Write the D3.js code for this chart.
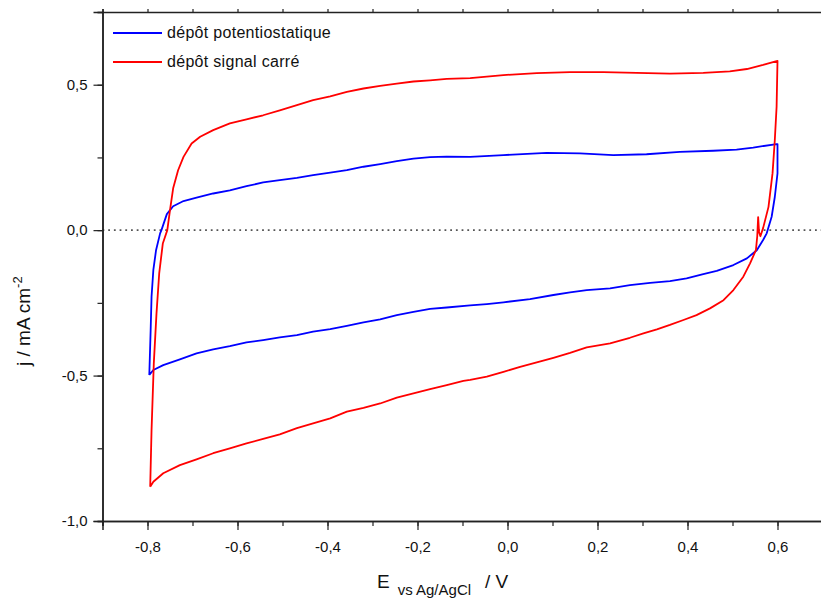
<!DOCTYPE html>
<html><head><meta charset="utf-8">
<script src="https://cdn.jsdelivr.net/npm/d3@7/dist/d3.min.js"></script>
<style>body{margin:0;background:#fff}svg{display:block}text{font-family:"Liberation Sans",Arial,sans-serif}</style>
</head><body><svg id="c" width="821" height="599"></svg>
<script>
// E (V) and j (mA cm-2)
const potE = [-0.796,-0.793,-0.791,-0.787,-0.781,-0.772,-0.769,-0.757,-0.743,-0.720,-0.691,-0.654,-0.617,-0.580,-0.543,-0.506,-0.468,-0.432,-0.394,-0.357,-0.320,-0.283,-0.246,-0.209,-0.172,-0.135,-0.083,-0.009,0.087,0.161,0.235,0.309,0.383,0.457,0.509,0.546,0.598,0.600,0.600,0.594,0.587,0.576,0.568,0.554,0.532,0.502,0.465,0.435,0.398,0.361,0.317,0.272,0.228,0.176,0.139,0.102,0.050,-0.009,-0.046,-0.083,-0.135,-0.172,-0.209,-0.246,-0.283,-0.320,-0.357,-0.394,-0.432,-0.468,-0.506,-0.543,-0.580,-0.617,-0.654,-0.691,-0.728,-0.765,-0.787,-0.796];
const potJ = [-0.498,-0.344,-0.229,-0.137,-0.069,-0.011,0.000,0.055,0.082,0.100,0.112,0.126,0.137,0.151,0.164,0.172,0.180,0.189,0.198,0.206,0.218,0.227,0.237,0.246,0.251,0.253,0.252,0.258,0.266,0.264,0.258,0.261,0.269,0.273,0.277,0.284,0.296,0.296,0.195,0.114,0.046,-0.011,-0.034,-0.069,-0.097,-0.120,-0.140,-0.151,-0.166,-0.175,-0.181,-0.189,-0.200,-0.206,-0.214,-0.223,-0.237,-0.248,-0.254,-0.259,-0.266,-0.271,-0.281,-0.292,-0.307,-0.317,-0.329,-0.340,-0.349,-0.361,-0.369,-0.378,-0.386,-0.399,-0.410,-0.424,-0.444,-0.464,-0.481,-0.498];
const sqE = [-0.794,-0.791,-0.786,-0.780,-0.774,-0.766,-0.756,-0.750,-0.743,-0.732,-0.720,-0.702,-0.683,-0.654,-0.617,-0.580,-0.543,-0.506,-0.468,-0.432,-0.394,-0.357,-0.320,-0.283,-0.246,-0.209,-0.172,-0.135,-0.083,-0.009,0.065,0.139,0.213,0.287,0.361,0.435,0.494,0.532,0.568,0.600,0.598,0.594,0.589,0.580,0.568,0.562,0.559,0.557,0.555,0.552,0.539,0.524,0.502,0.480,0.450,0.420,0.391,0.361,0.332,0.302,0.272,0.228,0.176,0.139,0.102,0.065,0.028,-0.009,-0.046,-0.083,-0.098,-0.135,-0.172,-0.209,-0.246,-0.283,-0.320,-0.357,-0.394,-0.432,-0.468,-0.506,-0.543,-0.580,-0.617,-0.654,-0.691,-0.728,-0.765,-0.787,-0.794];
const sqJ = [-0.882,-0.687,-0.458,-0.286,-0.149,-0.046,0.000,0.069,0.144,0.206,0.252,0.298,0.321,0.344,0.367,0.381,0.395,0.412,0.430,0.447,0.460,0.475,0.487,0.496,0.504,0.511,0.515,0.520,0.523,0.533,0.540,0.543,0.543,0.541,0.538,0.541,0.546,0.554,0.568,0.582,0.424,0.309,0.196,0.080,0.007,-0.021,-0.007,0.045,-0.021,-0.069,-0.114,-0.160,-0.206,-0.241,-0.269,-0.292,-0.309,-0.326,-0.341,-0.355,-0.370,-0.389,-0.403,-0.422,-0.439,-0.455,-0.470,-0.487,-0.504,-0.515,-0.518,-0.533,-0.547,-0.561,-0.576,-0.596,-0.611,-0.624,-0.647,-0.664,-0.681,-0.702,-0.718,-0.733,-0.750,-0.767,-0.788,-0.808,-0.836,-0.865,-0.882];
const seriesNames = ["dépôt potentiostatique", "dépôt signal carré"];
const seriesColors = ["#0000ff", "#ff0000"];
const xTicks = [-0.8,-0.6,-0.4,-0.2,0.0,0.2,0.4,0.6];
const yTicks = [-1.0,-0.5,0.0,0.5];

const svg = d3.select("#c");
const x = d3.scaleLinear().domain([-0.9, 0.7]).range([102.5, 822.5]);
const y = d3.scaleLinear().domain([-1.0, 0.75]).range([521, 12]);
const fmt = d => d3.format(".1f")(d).replace(".", ",").replace("−","-");

// zero dotted line
svg.append("line").attr("x1", x(-0.9)).attr("x2", 821).attr("y1", y(0)).attr("y2", y(0))
  .attr("stroke", "#555").attr("stroke-width", 1.6).attr("stroke-dasharray", "1.8,3.9");

// curves
const line = d3.line().x(d => x(d[0])).y(d => y(d[1]));
const data = [d3.zip(potE, potJ), d3.zip(sqE, sqJ)];
data.forEach((d, i) => {
  svg.append("path").datum(d).attr("d", line).attr("fill", "none")
    .attr("stroke", seriesColors[i]).attr("stroke-width", 1.8).attr("stroke-linejoin", "round");
});

// axes
const minorX = d3.range(-0.9, 0.71, 0.1).map(v => +v.toFixed(2));
const minorY = d3.range(-1.0, 0.76, 0.25).map(v => +v.toFixed(2));
const gx = svg.append("g").attr("transform", `translate(0,${y(-1.0)})`);
gx.call(d3.axisBottom(x).tickValues(minorX).tickSize(5).tickFormat(""));
gx.call(g => g.append("g").call(d3.axisBottom(x).tickValues(xTicks).tickSize(9).tickFormat(fmt)));
const gt = svg.append("g").attr("transform", `translate(0,${y(0.75)})`);
gt.call(d3.axisTop(x).tickValues(minorX).tickSize(3).tickFormat(""));
const gy = svg.append("g").attr("transform", `translate(${x(-0.9)},0)`);
gy.call(d3.axisLeft(y).tickValues(minorY).tickSize(5).tickFormat(""));
gy.call(g => g.append("g").call(d3.axisLeft(y).tickValues(yTicks).tickSize(9).tickFormat(fmt)));
svg.selectAll(".domain").attr("stroke", "#222").attr("stroke-width", 1.5);
svg.selectAll(".tick line").attr("stroke", "#222").attr("stroke-width", 1.2);
svg.selectAll(".tick text").attr("font-family", "Liberation Sans, Arial, sans-serif").attr("font-size", 15).attr("fill", "#111");
gx.selectAll(".tick text").attr("dy", "1.25em");
gy.selectAll(".tick text").attr("dx", "-0.2em");

// legend
seriesNames.forEach((n, i) => {
  const yy = 33 + i * 29;
  svg.append("line").attr("x1", 113).attr("x2", 162).attr("y1", yy).attr("y2", yy)
    .attr("stroke", seriesColors[i]).attr("stroke-width", 1.8);
  svg.append("text").attr("x", 167).attr("y", yy + 5).attr("font-size", 16)
    .attr("letter-spacing", 0.3).attr("fill", "#111").text(n);
});

// axis titles
const xt = svg.append("text").attr("x", 377).attr("y", 588).attr("font-size", 19).attr("fill", "#111");
xt.append("tspan").text("E");
xt.append("tspan").attr("font-size", 15).attr("dx", 8).attr("dy", 7).text("vs Ag/AgCl");
xt.append("tspan").attr("dx", 14).attr("dy", -7).text("/  V");

const yt = svg.append("text").attr("transform", "translate(30,366) rotate(-90)").attr("font-size", 19).attr("fill", "#111");
yt.append("tspan").text("j  /  mA cm");
yt.append("tspan").attr("font-size", 13).attr("dy", -8).text("-2");
</script></body></html>
